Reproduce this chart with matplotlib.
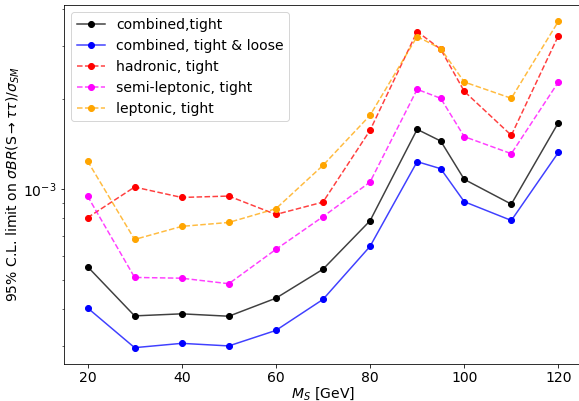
import matplotlib
matplotlib.use("Agg")
import matplotlib.pyplot as plt
from matplotlib.colors import to_rgba
from matplotlib.ticker import NullFormatter

# masses [GeV]
mass = [20, 30, 40, 50, 60, 70, 80, 90, 95, 100, 110, 120]

# limits (x 1e-3)
comb_tight = [0.553, 0.379, 0.385, 0.378, 0.434, 0.542, 0.786, 1.585, 1.449, 1.080, 0.893, 1.669]
comb_tl = [0.403, 0.297, 0.307, 0.301, 0.339, 0.430, 0.646, 1.237, 1.172, 0.910, 0.788, 1.328]
hadronic = [0.805, 1.018, 0.940, 0.950, 0.825, 0.907, 1.573, 3.355, 2.93, 2.122, 1.514, 3.253]
semilep = [0.950, 0.509, 0.506, 0.485, 0.631, 0.811, 1.058, 2.154, 2.011, 1.499, 1.315, 2.279]
leptonic = [1.243, 0.681, 0.753, 0.776, 0.862, 1.202, 1.765, 3.23, 2.944, 2.279, 2.011, 3.63]

labels = ["combined,tight", "combined, tight & loose", "hadronic, tight",
          "semi-leptonic, tight", "leptonic, tight"]

plt.rcParams["font.size"] = 14

# saved at 72 dpi
fig = plt.figure(figsize=(579 / 72, 401 / 72), dpi=72)
ax = fig.add_axes([0.1105, 0.0923, 0.8946, 0.8953])

def sc(v):
    return [x * 1e-3 for x in v]

def line(y, ls, c, lab):
    ax.plot(mass, sc(y), ls, color=to_rgba(c, 0.75), marker="o", mfc=c, mec=c, label=lab)

line(comb_tight, "-", "black", labels[0])
line(comb_tl, "-", "blue", labels[1])
line(hadronic, "--", "red", labels[2])
line(semilep, "--", "magenta", labels[3])
line(leptonic, "--", "orange", labels[4])

ax.set_yscale("log")
ax.yaxis.set_minor_formatter(NullFormatter())
ax.set_xlim(15, 125)
ax.set_xlabel("$M_S$ [GeV]", labelpad=0)
ax.set_ylabel(r"95% C.L. limit on $\sigma BR$(S$\rightarrow\tau\tau$)$/\sigma_{SM}$", labelpad=1)
ax.legend(loc="upper left")

fig.savefig("out.png", dpi=72)
